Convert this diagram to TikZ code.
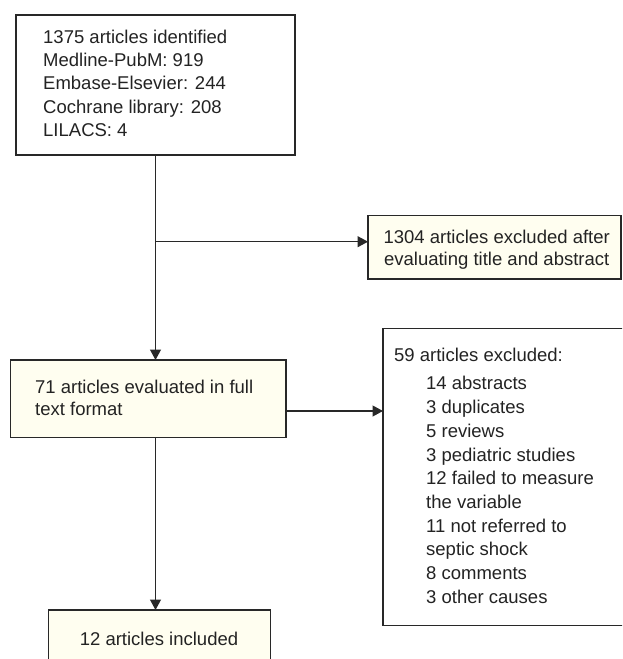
\documentclass[tikz,border=0pt]{standalone}
\usepackage{fontspec}
\setmainfont{Liberation Sans}
\usetikzlibrary{arrows.meta}
\definecolor{boxfill}{RGB}{255,254,240}
\definecolor{edge}{RGB}{40,40,40}
\definecolor{ink}{RGB}{35,35,35}
\tikzset{
  frame/.style={draw=edge, line width=1.2pt, inner sep=0pt, outer sep=0pt},
  plain/.style={frame, fill=white},
  cream/.style={frame, fill=boxfill},
  txt/.style={anchor=base west, inner sep=0pt, text=ink, font=\fontsize{18.5}{22}\selectfont},
  ctxt/.style={txt, anchor=base},
  conn/.style={draw=edge, line width=1.2pt},
  arr/.style={conn, -{Triangle[length=10.5pt, width=11pt]}}
}
\begin{document}
\begin{tikzpicture}[x=1pt, y=-1pt]
\useasboundingbox (0,0) rectangle (622,659);
\clip (0,0) rectangle (622,659);
% boxes
\node[plain, minimum width=279pt, minimum height=140pt] (top) at (155.5,85) {};
\node[cream, minimum width=253pt, minimum height=63.3pt] (ex1) at (494.5,247.35) {};
\node[cream, minimum width=275.3pt, minimum height=77.7pt] (full) at (148.35,398.85) {};
\node[plain, minimum width=250pt, minimum height=297.4pt] (ex2) at (508,477) {};
\node[cream, minimum width=222.4pt, minimum height=60pt] (inc) at (159.5,640) {};
% texts: top box
\node[txt] (t1) at (43,43.3) {1375 articles identified};
\node[txt] (t2) at (43,66.6) {Medline-PubM: 919};
\node[txt] (t3) at (43,89.9) {Embase-Elsevier: 244};
\node[txt] (t4) at (43,113.2) {Cochrane library: 208};
\node[txt] (t5) at (43,136.5) {LILACS: 4};
% excluded 1
\node[ctxt] (e1a) at (496.7,243.3) {1304 articles excluded after};
\node[ctxt] (e1b) at (496.7,265.6) {evaluating title and abstract};
% full text
\node[txt] (f1) at (35,393.9) {71 articles evaluated in full};
\node[txt] (f2) at (35,415.9) {text format};
% excluded 2
\node[txt] (x0) at (394,361.6) {59 articles excluded:};
\node[txt] (x1) at (426,389.9) {14 abstracts};
\node[txt] (x2) at (426,413.6) {3 duplicates};
\node[txt] (x3) at (426,437.3) {5 reviews};
\node[txt] (x4) at (426,461.0) {3 pediatric studies};
\node[txt] (x5) at (426,484.7) {12 failed to measure};
\node[txt] (x6) at (426,508.4) {the variable};
\node[txt] (x7) at (426,532.1) {11 not referred to};
\node[txt] (x8) at (426,555.8) {septic shock};
\node[txt] (x9) at (426,579.5) {8 comments};
\node[txt] (x10) at (426,603.2) {3 other causes};
% included
\node[ctxt] (i1) at (159,645.9) {12 articles included};
% connectors
\coordinate (br) at (155.5,241.7);
\coordinate (m2) at (0,411);
\draw[arr] (top.south) -- (top.south |- full.north);
\draw[arr] (br) -- (br -| ex1.west);
\draw[arr] (full.east |- m2) -- (ex2.west |- m2);
\draw[arr] (full.south -| top.south) -- (top.south |- inc.north);
\end{tikzpicture}
\end{document}
